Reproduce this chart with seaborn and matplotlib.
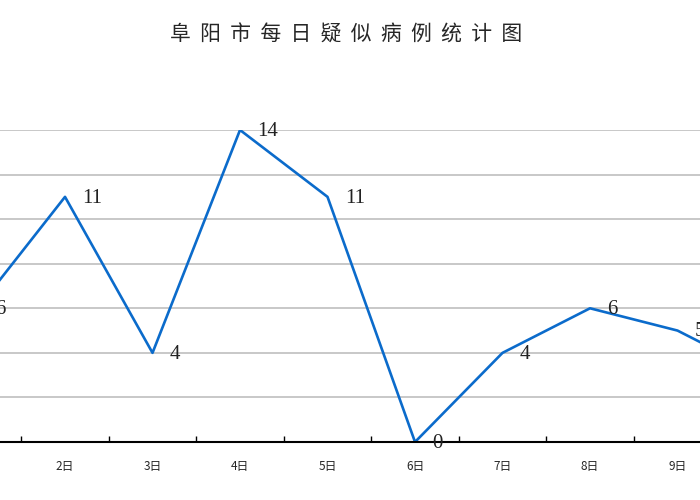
import matplotlib
matplotlib.use('Agg')
import matplotlib.pyplot as plt
import seaborn as sns
import pandas as pd
import numpy as np

# Daily suspected cases (the view is cropped: 1日 and 10日 fall partly off-frame)
days = ['1日', '2日', '3日', '4日', '5日', '6日', '7日', '8日', '9日', '10日']
cases = [6, 11, 4, 14, 11, 0, 4, 6, 5, 3]
title = '阜阳市每日疑似病例统计图'

sns.set_style('white')
plt.rcParams['font.family'] = ['Noto Sans CJK SC', 'DejaVu Sans']

df = pd.DataFrame({'idx': np.arange(len(days)), 'day': days, 'cases': cases})

fig = plt.figure(figsize=(7, 5), dpi=100)
ax = fig.add_axes([0, 0.116, 1, 0.624])

sns.lineplot(data=df, x='idx', y='cases', ax=ax, color='#0B6BCB', linewidth=1.9)

# data labels, right of each point
for i, v in zip(df['idx'], df['cases']):
    ax.annotate(str(v), (i, v), xytext=(12.5, -1), textcoords='offset points',
                ha='left', va='center', fontsize=15, family='Liberation Serif',
                color='#222222', annotation_clip=False)

# grid
ax.set_yticks(np.arange(2, 15, 2))
ax.yaxis.grid(True, color='#C4C4C4', linewidth=1.3)
ax.tick_params(axis='y', left=False, labelleft=False)

# category labels at centres, tick marks at boundaries
ax.set_xticks(df['idx'])
ax.set_xticklabels(days, fontsize=8.5)
ax.set_xticks(df['idx'] + 0.5, minor=True)
ax.tick_params(axis='x', which='major', bottom=True, length=0, pad=13)
ax.tick_params(axis='x', which='minor', bottom=True, direction='in',
               length=4, width=1, color='black')

ax.set_xlim(0.257, 8.257)
ax.set_ylim(0, 14)

for s in ['top', 'left', 'right']:
    ax.spines[s].set_visible(False)
ax.spines['bottom'].set_color('black')
ax.spines['bottom'].set_linewidth(1.5)

ax.set_xlabel('')
ax.set_ylabel('')

fig.text(0.494, 0.93, '  '.join(title), ha='center', va='center', fontsize=15)

fig.savefig('out.png', dpi=100)
